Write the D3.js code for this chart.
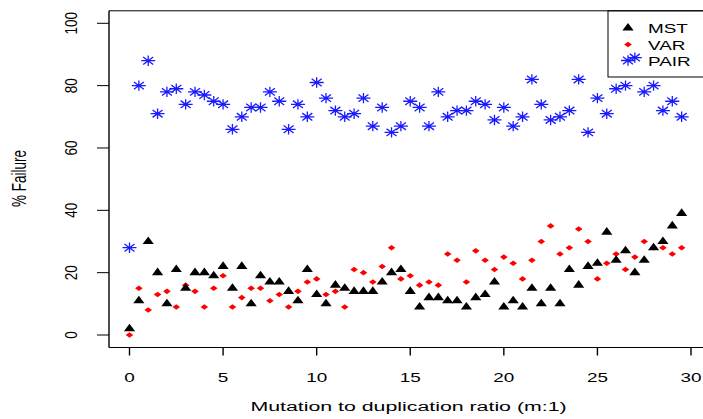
<!DOCTYPE html>
<html>
<head>
<meta charset="utf-8">
<script src="https://cdn.jsdelivr.net/npm/d3@7"></script>
<style>
  html, body { margin: 0; padding: 0; background: #fff; }
  svg { display: block; }
  text { font-family: "Liberation Sans", Arial, Helvetica, sans-serif; fill: #000; }
</style>
</head>
<body>
<svg id="chart" width="703" height="419"></svg>
<script>
// ---- data ----
const xValues = d3.range(60).map(i => i * 0.5); // 0, 0.5, ... 29.5 (ratio m:1)
const mstValues = [2,11,30,20,10,21,15,20,20,19,22,15,22,10,19,17,17,14,11,21,
                   13,10,16,15,14,14,14,17,20,21,14,9,12,12,11,11,9,12,13,17,
                   9,11,9,15,10,15,10,21,16,22,23,33,24,27,20,24,28,30,35,39];
const varValues = [0,15,8,13,14,9,16,14,9,15,19,9,12,15,15,11,13,9,14,17,
                   18,13,14,9,21,20,17,22,28,18,19,16,17,16,26,24,17,27,24,21,
                   25,23,18,24,30,35,26,28,34,30,18,23,26,21,25,30,28,28,26,28];
const pairValues = [28,80,88,71,78,79,74,78,77,75,74,66,70,73,73,78,75,66,74,70,
                    81,76,72,70,71,76,67,73,65,67,75,73,67,78,70,72,72,75,74,69,
                    73,67,70,82,74,69,70,72,82,65,76,71,79,80,89,78,80,72,75,70];
const xTicks = [0, 5, 10, 15, 20, 25, 30];
const yTicks = [0, 20, 40, 60, 80, 100];
const seriesNames = ["MST", "VAR", "PAIR"];
const xTitle = "Mutation to duplication ratio (m:1)";
const yTitle = "% Failure";

// ---- layout ----
const svg = d3.select("#chart");
const box = { left: 109, right: 706, top: 10.8, bottom: 347.5 };
const x = d3.scaleLinear().domain([0, 30]).range([129.5, 691]);
const y = d3.scaleLinear().domain([0, 100]).range([335, 23.3]);
const SX = 1.4; // horizontal stretch of the original raster

function stretchedText(g, tx, ty, str, size, sx, anchor, rot) {
  return g.append("text")
    .attr("transform", `translate(${tx},${ty}) scale(${sx},1)` + (rot ? ` rotate(${rot})` : ""))
    .attr("text-anchor", anchor)
    .style("font-size", size + "px")
    .text(str);
}

// box
const frame = svg.append("g").attr("stroke", "#000").attr("fill", "none");
frame.append("line").attr("x1", box.left).attr("x2", box.right).attr("y1", box.top).attr("y2", box.top).attr("stroke-width", 1);
frame.append("line").attr("x1", box.left).attr("x2", box.right).attr("y1", box.bottom).attr("y2", box.bottom).attr("stroke-width", 1);
frame.append("line").attr("x1", box.left).attr("x2", box.left).attr("y1", box.top).attr("y2", box.bottom).attr("stroke-width", 1.4);

// x axis
const xAxis = svg.append("g");
xTicks.forEach(t => {
  xAxis.append("line").attr("x1", x(t)).attr("x2", x(t)).attr("y1", box.bottom).attr("y2", box.bottom + 8)
    .attr("stroke", "#000").attr("stroke-width", 1.4);
  stretchedText(xAxis, x(t), 382, String(t), 13.5, SX, "middle");
});
stretchedText(svg, 408.5, 411, xTitle, 13.5, 1.58, "middle");

// y axis
const yAxis = svg.append("g");
yTicks.forEach(t => {
  yAxis.append("line").attr("x1", box.left - 12).attr("x2", box.left).attr("y1", y(t)).attr("y2", y(t))
    .attr("stroke", "#000").attr("stroke-width", 1);
  stretchedText(yAxis, 77, y(t), String(t), 13.5, 1.25, "middle", -90);
});
stretchedText(svg, 26, 178.5, yTitle, 13.5, 1.45, "middle", -90);

// markers
const triW = 5.6, triH = 7.6;
function triPath(cx, cy) {
  return `M${cx},${cy - triH * 2 / 3}L${cx + triW},${cy + triH / 3}L${cx - triW},${cy + triH / 3}Z`;
}
const dW = 3.8, dH = 2.8;
function diaPath(cx, cy) {
  return `M${cx},${cy - dH}L${cx + dW},${cy}L${cx},${cy + dH}L${cx - dW},${cy}Z`;
}
const sPX = 7, sPY = 5.2, sXX = 5, sXY = 3.7;
function starPath(cx, cy) {
  return `M${cx - sPX},${cy}L${cx + sPX},${cy}M${cx},${cy - sPY}L${cx},${cy + sPY}` +
         `M${cx - sXX},${cy - sXY}L${cx + sXX},${cy + sXY}M${cx - sXX},${cy + sXY}L${cx + sXX},${cy - sXY}`;
}

// legend (transparent background, drawn under the points)
const lg = svg.append("g");
lg.append("rect").attr("x", 608).attr("y", box.top).attr("width", box.right - 608).attr("height", 77 - box.top)
  .attr("fill", "none").attr("stroke", "#000").attr("stroke-width", 1);
const legY = [28, 44.5, 60.5];
const legSym = [triPath, diaPath, starPath];
seriesNames.forEach((name, k) => {
  const p = lg.append("path").attr("d", legSym[k](628, legY[k]));
  if (k === 0) p.attr("fill", "#000");
  else if (k === 1) p.attr("fill", "#ff0000");
  else p.attr("stroke", "#1a1aff").attr("stroke-width", 1.3).attr("fill", "none");
  stretchedText(lg, 648, legY[k] + 5, name, 13.5, SX, "start");
});

const pts = svg.append("g");
pts.selectAll("path.pair").data(pairValues).join("path").attr("class", "pair")
  .attr("d", (v, i) => starPath(x(xValues[i]), y(v)))
  .attr("stroke", "#1a1aff").attr("stroke-width", 1.3).attr("fill", "none");
pts.selectAll("path.var").data(varValues).join("path").attr("class", "var")
  .attr("d", (v, i) => diaPath(x(xValues[i]), y(v)))
  .attr("fill", "#ff0000");
pts.selectAll("path.mst").data(mstValues).join("path").attr("class", "mst")
  .attr("d", (v, i) => triPath(x(xValues[i]), y(v)))
  .attr("fill", "#000");
</script>
</body>
</html>
